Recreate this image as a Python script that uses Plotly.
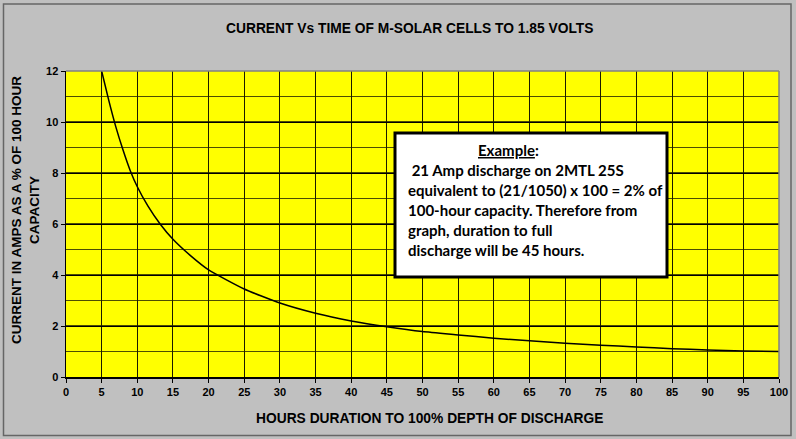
import plotly.graph_objects as go

# Data
hours = [5, 6, 7, 8, 9, 10, 11.5, 13.2, 15, 17.5, 20, 25, 30, 35, 40, 45, 50, 55, 60,
         65, 70, 75, 80, 85, 90, 95, 100]
current = [12.0, 10.85, 9.8, 8.9, 8.1, 7.46, 6.7, 6.0, 5.4, 4.75, 4.2, 3.45, 2.9, 2.5,
           2.2, 1.97, 1.78, 1.65, 1.52, 1.42, 1.32, 1.25, 1.18, 1.11, 1.06, 1.02, 1.0]

x_ticks = list(range(0, 101, 5))
y_ticks = list(range(0, 13, 2))

title_text = "CURRENT Vs TIME OF M-SOLAR CELLS TO 1.85 VOLTS"
x_title = "HOURS DURATION TO 100% DEPTH OF DISCHARGE"
y_title = "CURRENT IN AMPS AS A % OF 100 HOUR<br>CAPACITY"
note_head = "Example"
note_lines = [
    " 21 Amp discharge on 2MTL 25S",
    "equivalent to (21/1050) x 100 = 2% of",
    "100-hour capacity. Therefore from",
    "graph, duration to full",
    "discharge will be 45 hours.",
]

W, H = 796, 439
L, R, T, B = 66, 779, 71, 377
pw, ph = R - L, B - T


def px(xp):
    return (xp - L) / pw


def py(yp):
    return (B - yp) / ph


AX_FONT = "Liberation Sans, Arial, sans-serif"
NOTE_FONT = "Lato, Carlito, Calibri, sans-serif"

fig = go.Figure()
fig.add_trace(go.Scatter(x=hours, y=current, mode="lines",
                         line=dict(color="black", width=1.5, shape="spline", smoothing=0.5),
                         hoverinfo="skip", showlegend=False))

fig.update_layout(
    width=W, height=H,
    margin=dict(l=L, r=W - R, t=T, b=H - B, autoexpand=False),
    paper_bgcolor="#C0C0C0",
    plot_bgcolor="#FFFF00",
    showlegend=False,
    xaxis=dict(range=[0, 100], tickvals=x_ticks, ticktext=[str(v) for v in x_ticks],
               showgrid=True, gridcolor="#1a1a00", gridwidth=1,
               ticks="outside", ticklen=4, tickcolor="black",
               showline=True, linecolor="black", linewidth=1.5,
               tickfont=dict(family=AX_FONT, size=11, color="black", weight="bold"),
               zeroline=False, fixedrange=True, automargin=False),
    yaxis=dict(range=[0, 12], tickvals=y_ticks, ticktext=[str(v) for v in y_ticks],
               showgrid=True, gridcolor="black", gridwidth=1,
               minor=dict(dtick=1, showgrid=True, gridcolor="#4d4d00", gridwidth=1.5, ticks=""),
               ticks="outside", ticklen=4, tickcolor="black",
               showline=True, linecolor="black", linewidth=1.5,
               tickfont=dict(family=AX_FONT, size=11, color="black", weight="bold"),
               zeroline=False, fixedrange=True, automargin=False),
)

shapes = []
# plot area gray top/right border
shapes.append(dict(type="line", xref="paper", yref="paper", x0=0, x1=1, y0=1, y1=1,
                   line=dict(color="#808080", width=1.5)))
shapes.append(dict(type="line", xref="paper", yref="paper", x0=1, x1=1, y0=0, y1=1,
                   line=dict(color="#808080", width=1.5)))
# outer chart border
shapes.append(dict(type="rect", xref="paper", yref="paper",
                   x0=px(3.5), x1=px(791), y0=py(435.5), y1=py(4),
                   line=dict(color="#666666", width=1.5)))
# note box
shapes.append(dict(type="rect", xref="paper", yref="paper",
                   x0=px(395), x1=px(667), y0=py(277), y1=py(133),
                   fillcolor="white", line=dict(color="black", width=3)))
fig.update_layout(shapes=shapes)

ann = []
ann.append(dict(text="<b>" + title_text + "</b>", xref="paper", yref="paper",
                x=px(409), y=py(28), xanchor="center", yanchor="middle", showarrow=False,
                font=dict(family=AX_FONT, size=13.8, color="black")))
ann.append(dict(text="<b>" + x_title + "</b>", xref="paper", yref="paper",
                x=px(430), y=py(418), xanchor="center", yanchor="middle", showarrow=False,
                font=dict(family=AX_FONT, size=13.8, color="black")))
ann.append(dict(text="<b>" + y_title + "</b>", xref="paper", yref="paper",
                x=px(25), y=py(210), xanchor="center", yanchor="middle", showarrow=False,
                textangle=-90, align="center",
                font=dict(family=AX_FONT, size=13.5, color="black")))
ann.append(dict(text="<b><u>" + note_head + "</u>:</b>", xref="paper", yref="paper",
                x=px(508), y=py(150), xanchor="center", yanchor="middle", showarrow=False,
                font=dict(family=NOTE_FONT, size=15, color="black")))
for i, line in enumerate(note_lines):
    txt = line.replace(" ", "&nbsp;", 1) if line.startswith(" ") else line
    ann.append(dict(text="<b>" + txt + "</b>",
                    xref="paper", yref="paper",
                    x=px(406), y=py(170 + 20 * i), xanchor="left", yanchor="middle",
                    showarrow=False, font=dict(family=NOTE_FONT, size=15, color="black")))
fig.update_layout(annotations=ann)

fig.write_html("out.html",
               config={"displayModeBar": False, "staticPlot": True},
               post_script="document.body.style.margin='0';document.body.style.padding='0';"
                           "document.body.style.overflow='hidden';")
